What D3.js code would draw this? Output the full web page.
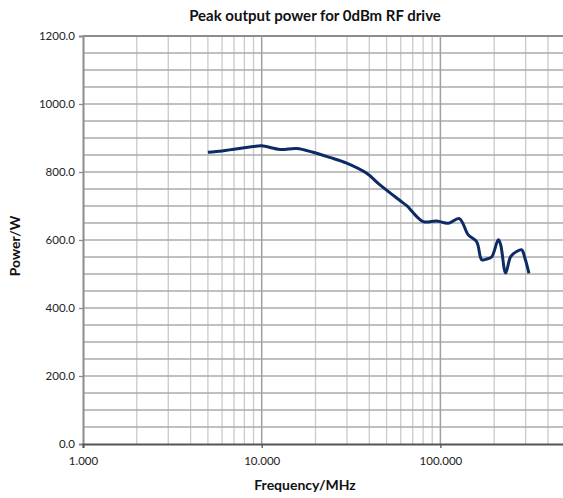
<!DOCTYPE html>
<html><head><meta charset="utf-8">
<script src="https://cdn.jsdelivr.net/npm/d3@7"></script>
<style>body{margin:0;background:#fff}svg{display:block}text{font-family:Lato,"Open Sans",sans-serif}</style>
</head><body><svg id="c" width="563" height="498"></svg>
<script>
const freq = [5, 6, 7, 8, 9, 10, 12.7, 15.7, 19.4, 24, 29.9, 38.7, 45.9, 59.4, 64.8, 80.2, 95.3, 110.7, 127.6, 143.2, 159.6, 170.3, 181.6, 193.5, 210.9, 217.4, 231.8, 247.3, 267, 285, 297, 313];
const power = [858, 862, 867, 871, 875, 877, 866, 869, 858, 843, 826, 796, 762, 716, 701, 654, 656, 649, 663, 615, 595, 542, 544, 550, 601, 586, 503, 551, 566, 571, 547, 502];
const xTicks = [1, 10, 100];
const yTicks = [0, 200, 400, 600, 800, 1000, 1200];
const title = "Peak output power for 0dBm RF drive";
const xTitle = "Frequency/MHz";
const yTitle = "Power/W";

const svg = d3.select("#c");
const L = 83, T = 36, B = 444;
const x = d3.scaleLog().domain([1, 1000]).range([L, L + 3 * 178.7]);
const y = d3.scaleLinear().domain([0, 1200]).range([B, T]);
const R = x(1000);

const g = svg.append("g");
const minorX = [];
for (let d = 1; d < 1000; d *= 10) for (let k = 2; k <= 9; k++) minorX.push(d * k);
g.selectAll(".vx").data(minorX).join("line")
  .attr("x1", d => x(d)).attr("x2", d => x(d)).attr("y1", T).attr("y2", B)
  .attr("stroke", "#cacaca").attr("stroke-width", 1.3);
const hy = d3.range(50, 1201, 50);
g.selectAll(".hy").data(hy).join("line")
  .attr("x1", L).attr("x2", R).attr("y1", d => y(d)).attr("y2", d => y(d))
  .attr("stroke", d => d === 1200 ? "#8c8c8c" : "#ababab").attr("stroke-width", d => d === 1200 ? 2 : 1.3);
g.selectAll(".mx").data([10, 100, 1000]).join("line")
  .attr("x1", d => x(d)).attr("x2", d => x(d)).attr("y1", T).attr("y2", B)
  .attr("stroke", "#a0a0a0").attr("stroke-width", 1.5);

const ya = d3.axisLeft(y).tickValues(yTicks).tickSize(4).tickFormat(d3.format(".1f"));
const yg = svg.append("g").attr("transform", `translate(${L},0)`).call(ya);
yg.select(".domain").attr("stroke", "#8c8c8c").attr("stroke-width", 2);
yg.selectAll(".tick line").attr("stroke", "#8c8c8c").attr("stroke-width", 1.3);
yg.selectAll("text").attr("font-size", 11.5).attr("fill", "#222").attr("x", -8);

const xa = d3.axisBottom(x).tickValues(xTicks).tickSize(4).tickFormat(d3.format(".3f"));
const xg = svg.append("g").attr("transform", `translate(0,${B})`).call(xa);
xg.select(".domain").attr("stroke", "#555").attr("stroke-width", 2);
xg.selectAll(".tick line").attr("stroke", "#555").attr("stroke-width", 1.3);
xg.selectAll("text").attr("font-size", 11.5).attr("fill", "#222").attr("dy", "1.25em");

const line = d3.line().x((d, i) => x(freq[i])).y(d => y(d)).curve(d3.curveCatmullRom.alpha(0.5));
svg.append("path").datum(power).attr("d", line).attr("fill", "none")
  .attr("stroke", "#0c2a66").attr("stroke-width", 3).attr("stroke-linejoin", "round");

svg.append("text").attr("x", 315).attr("y", 21).attr("text-anchor", "middle")
  .attr("font-size", 15).attr("font-weight", "bold").attr("fill", "#111").text(title);
svg.append("text").attr("x", 305).attr("y", 490).attr("text-anchor", "middle")
  .attr("font-size", 14).attr("font-weight", "bold").attr("fill", "#111").text(xTitle);
svg.append("text").attr("transform", "translate(20,246) rotate(-90)").attr("text-anchor", "middle")
  .attr("font-size", 14).attr("font-weight", "bold").attr("fill", "#111").text(yTitle);
</script></body></html>
